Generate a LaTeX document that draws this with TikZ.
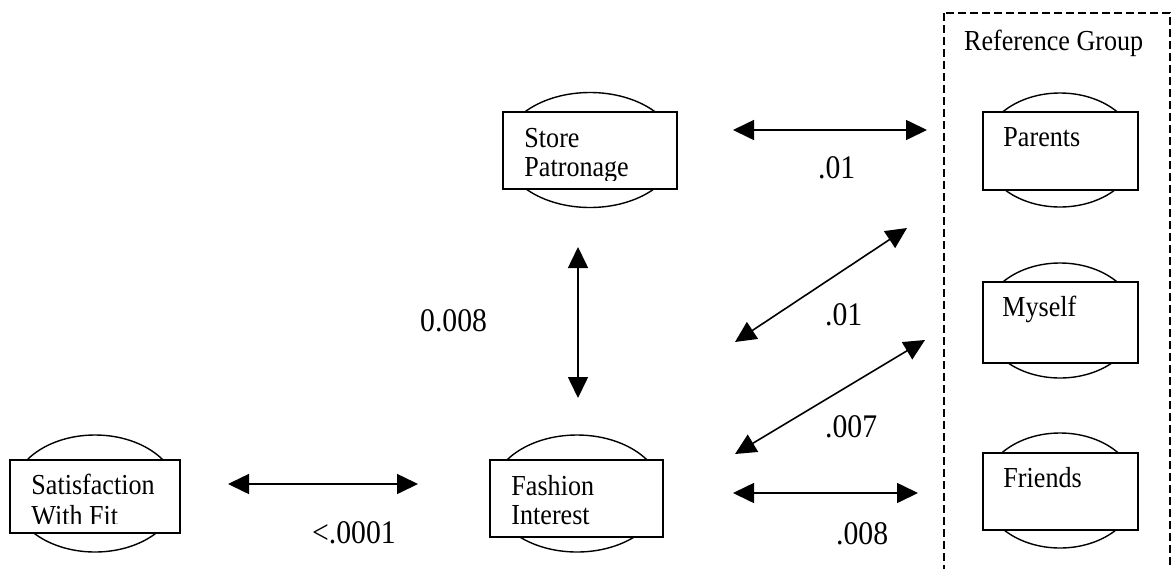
\documentclass[tikz,border=0pt]{standalone}
\usepackage{fontspec}
\setmainfont[FakeStretch=0.9]{Liberation Serif}
\usetikzlibrary{arrows.meta,shapes.geometric}
\begin{document}
\begin{tikzpicture}[x=1pt,y=-1pt,
  oval/.style={ellipse,draw,line width=1.4pt,inner sep=0pt},
  box/.style={rectangle,draw,fill=white,line width=1.5pt,inner sep=0pt},
  lbl/.style={anchor=base west,inner sep=0pt,align=left,font=\fontsize{29}{29}\selectfont},
  num/.style={anchor=base west,inner sep=0pt,font=\fontsize{33}{33}\selectfont},
  tip/.tip={Triangle[length=21pt,width=20pt]},
  biarrow/.style={tip-tip,line width=1.6pt},
  grp/.style={dash pattern=on 8pt off 4pt,line width=1.2pt}]
\path[use as bounding box] (0,0) rectangle (1174,568);
\clip (0,0) rectangle (1174,568);

% Reference group frame
\draw[grp] (944,13) rectangle (1170,620);
\node[lbl] (rgt) at (964,50) {Reference Group};

% Store Patronage
\node[oval,minimum width=174pt,minimum height=115pt] (spe) at (590,150) {};
\node[box,minimum width=174pt,minimum height=77pt] (spb) at (590,150.5) {};
\begin{scope}
\clip (spb.north west) rectangle ([yshift=9pt]spb.south east);
\node[lbl] (spt) at ([shift={(22,65)}]spb.north west) {Store\\Patronage};
\end{scope}

% Fashion Interest
\node[oval,minimum width=171pt,minimum height=117pt] (fie) at (577,493.5) {};
\node[box,minimum width=173pt,minimum height=77pt] (fib) at (576.5,498.5) {};
\begin{scope}
\clip (fib.north west) rectangle ([yshift=9pt]fib.south east);
\node[lbl] (fit) at ([shift={(22,65)}]fib.north west) {Fashion\\Interest};
\end{scope}

% Satisfaction With Fit
\node[oval,minimum width=166pt,minimum height=117pt] (sfe) at (95,493.5) {};
\node[box,minimum width=170pt,minimum height=73pt] (sfb) at (95,496.5) {};
\begin{scope}
\clip (sfb.north west) rectangle ([yshift=10pt]sfb.south east);
\node[lbl] (sft) at ([shift={(22,66)}]sfb.north west) {Satisfaction\\[2pt]With Fit};
\end{scope}

% Parents
\node[oval,minimum width=154pt,minimum height=114pt] (pae) at (1060,150) {};
\node[box,minimum width=155pt,minimum height=78pt] (pab) at (1060.5,151) {};
\node[lbl] (pat) at ([shift={(21,35)}]pab.north west) {Parents};

% Myself
\node[oval,minimum width=154pt,minimum height=115pt] (mye) at (1060,320.5) {};
\node[box,minimum width=155pt,minimum height=81pt] (myb) at (1060.5,322.5) {};
\node[lbl] (myt) at ([shift={(20,35)}]myb.north west) {Myself};

% Friends
\node[oval,minimum width=154pt,minimum height=115pt] (fre) at (1060,490.5) {};
\node[box,minimum width=155pt,minimum height=77pt] (frb) at (1060.5,491.5) {};
\node[lbl] (frt) at ([shift={(21,35)}]frb.north west) {Friends};

% arrow end points
\coordinate (a1l) at (733,130);  \coordinate (a1r) at (927,130);
\coordinate (a2t) at (578,247);  \coordinate (a2b) at (578,398);
\coordinate (a3l) at (735,342);  \coordinate (a3r) at (907,228);
\coordinate (a4l) at (735,454);  \coordinate (a4r) at (925,340);
\coordinate (a5l) at (733,493);  \coordinate (a5r) at (918,493);
\coordinate (a6l) at (228,484);  \coordinate (a6r) at (418,484);

\draw[biarrow] (a1l) -- (a1r);
\draw[biarrow] (a2t) -- (a2b);
\draw[biarrow] (a3l) -- (a3r);
\draw[biarrow] (a4l) -- (a4r);
\draw[biarrow] (a5l) -- (a5r);
\draw[biarrow] (a6l) -- (a6r);

% labels
\node[num] (n1) at (818,178) {.01};
\node[num] (n2) at (420,331) {0.008};
\node[num] (n3) at (825,325) {.01};
\node[num] (n4) at (825,437) {.007};
\node[num] (n5) at (836,544) {.008};
\node[num] (n6) at (312,543) {<.0001};
\end{tikzpicture}
\end{document}
